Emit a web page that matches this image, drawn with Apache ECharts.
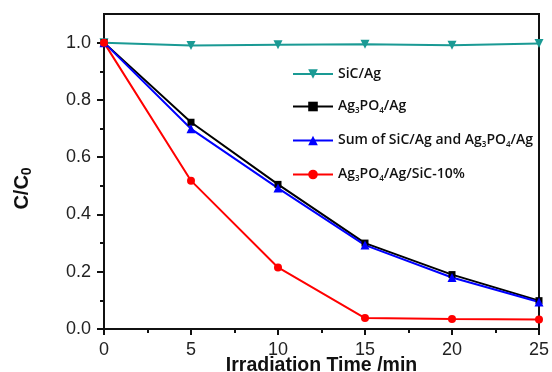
<!DOCTYPE html>
<html>
<head>
<meta charset="utf-8">
<script src="https://cdn.jsdelivr.net/npm/echarts@6/dist/echarts.min.js"></script>
<style>
  html, body { margin: 0; padding: 0; background: #fff; }
  #main { width: 552px; height: 372px; }
</style>
</head>
<body>
<div id="main"></div>
<script>
  // irradiation time (min)
  var times = [0, 5, 10, 15, 20, 25];
  // C/C0 per sample
  var sicAg = [1.0, 0.99, 0.993, 0.994, 0.991, 0.997];
  var agpoAg = [1.0, 0.722, 0.505, 0.300, 0.190, 0.099];
  var sumAg = [1.0, 0.699, 0.492, 0.293, 0.180, 0.094];
  var agpoSic = [1.0, 0.518, 0.215, 0.038, 0.035, 0.033];

  var yLabels = [0, 0.2, 0.4, 0.6, 0.8, 1.0];
  var yMinor = [0.1, 0.3, 0.5, 0.7, 0.9];

  var names = ['SiC/Ag', 'Ag3PO4/Ag', 'Sum of SiC/Ag and Ag3PO4/Ag', 'Ag3PO4/Ag/SiC-10%'];

  function pairs(arr) {
    return arr.map(function (v, i) { return [times[i], v]; });
  }

  function fmt(name) {
    return name.split(/(Ag3PO4)/).map(function (p) {
      if (p === 'Ag3PO4') return '{n|Ag}{s|3}{n|PO}{s|4}';
      return p ? '{n|' + p + '}' : '';
    }).join('');
  }

  var chart = echarts.init(document.getElementById('main'));

  var axisFont = { color: '#222', fontSize: 18, fontFamily: 'Liberation Sans' };

  var option = {
    animation: false,
    grid: {
      left: 104, right: 13, top: 14, bottom: 43,
      outerBoundsMode: 'none',
      show: true, borderColor: '#111', borderWidth: 2
    },
    legend: {
      orient: 'vertical',
      left: 287, top: 62,
      itemWidth: 40, itemHeight: 12, itemGap: 18.5,
      data: names,
      formatter: fmt,
      textStyle: {
        rich: {
          n: { fontFamily: 'Open Sans', fontWeight: 600, fontSize: 14, color: '#111', lineHeight: 16 },
          s: { fontFamily: 'Open Sans', fontWeight: 600, fontSize: 8, color: '#111', padding: [9, 0, 0, 0] }
        }
      }
    },
    xAxis: {
      type: 'value', min: 0, max: 25, interval: 5,
      name: 'Irradiation Time /min',
      nameLocation: 'middle', nameGap: 27, nameMoveOverlap: false,
      nameTextStyle: { fontFamily: 'Liberation Sans', fontWeight: 'bold', fontSize: 19.5, color: '#111' },
      axisLine: { lineStyle: { color: '#111', width: 2 } },
      axisTick: { inside: false, length: 6, lineStyle: { color: '#111', width: 2 } },
      minorTick: { show: true, splitNumber: 2, length: 4, lineStyle: { color: '#111', width: 2 } },
      axisLabel: Object.assign({ margin: 12 }, axisFont),
      splitLine: { show: false }
    },
    yAxis: [{
      type: 'value', min: 0, max: 1.1,
      name: '{n|C/C}{s|0}',
      nameLocation: 'middle', nameGap: 70, nameRotate: 90, nameMoveOverlap: false,
      nameTextStyle: {
        padding: [0, 34, 0, 0],
        rich: {
          n: { fontFamily: 'Liberation Sans', fontWeight: 'bold', fontSize: 20, color: '#111', lineHeight: 22 },
          s: { fontFamily: 'Liberation Sans', fontWeight: 'bold', fontSize: 14, color: '#111', padding: [9, 0, 0, 0] }
        }
      },
      axisLine: { lineStyle: { color: '#111', width: 2 } },
      axisTick: { length: 7, customValues: yLabels, lineStyle: { color: '#111', width: 2 } },
      axisLabel: Object.assign({
        margin: 13, customValues: yLabels,
        formatter: function (v) { return v.toFixed(1); }
      }, axisFont),
      splitLine: { show: false }
    }, {
      type: 'value', min: 0, max: 1.1, position: 'left',
      axisLine: { show: false },
      axisTick: { show: true, length: 4, customValues: yMinor, lineStyle: { color: '#111', width: 2 } },
      axisLabel: { show: false },
      splitLine: { show: false }
    }],
    series: [{
      name: names[0], type: 'line', data: pairs(sicAg),
      symbol: 'triangle', symbolRotate: 180, symbolSize: 9,
      lineStyle: { color: '#1a9a94', width: 2 },
      itemStyle: { color: '#1a9a94' }
    }, {
      name: names[1], type: 'line', data: pairs(agpoAg),
      symbol: 'rect', symbolSize: 7,
      lineStyle: { color: '#000', width: 2 },
      itemStyle: { color: '#000' }
    }, {
      name: names[2], type: 'line', data: pairs(sumAg),
      symbol: 'triangle', symbolSize: 9,
      lineStyle: { color: '#0000ff', width: 2 },
      itemStyle: { color: '#0000ff' }
    }, {
      name: names[3], type: 'line', data: pairs(agpoSic),
      symbol: 'circle', symbolSize: 8,
      lineStyle: { color: '#ff0000', width: 2 },
      itemStyle: { color: '#ff0000' }
    }]
  };

  chart.setOption(option);

  window.addEventListener('resize', function () {
    chart.resize();
  });
</script>
</body>
</html>
